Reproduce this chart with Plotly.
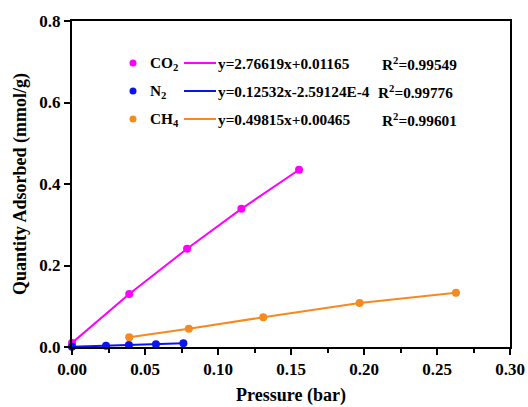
import plotly.graph_objects as go

# ---- data ----
co2_x = [0.0, 0.0392, 0.0788, 0.116, 0.1555]
co2_y = [0.010, 0.130, 0.241, 0.339, 0.435]

n2_x = [0.0, 0.0233, 0.039, 0.0575, 0.0763]
n2_y = [0.0005, 0.003, 0.005, 0.007, 0.0095]

ch4_x = [0.0392, 0.080, 0.131, 0.197, 0.263]
ch4_y = [0.024, 0.0446, 0.073, 0.108, 0.133]

legend_names = ["CO<sub>2</sub>", "N<sub>2</sub>", "CH<sub>4</sub>"]
legend_eqs = ["y=2.76619x+0.01165", "y=0.12532x-2.59124E-4", "y=0.49815x+0.00465"]
legend_r2 = ["R<sup>2</sup>=0.99549", "R<sup>2</sup>=0.99776", "R<sup>2</sup>=0.99601"]

x_ticks = [0.0, 0.05, 0.10, 0.15, 0.20, 0.25, 0.30]
y_ticks = [0.0, 0.2, 0.4, 0.6, 0.8]

COLORS = ["#FF00FF", "#0A14F0", "#F58A1F"]
FONT = "Liberation Serif"

W, H = 528, 407
ML, MR, MT, MB = 72, 18, 21, 60
PW, PH = W - ML - MR, H - MT - MB

fig = go.Figure()
for xs, ys, c in [(co2_x, co2_y, COLORS[0]), (n2_x, n2_y, COLORS[1]), (ch4_x, ch4_y, COLORS[2])]:
    fig.add_trace(go.Scatter(x=xs, y=ys, mode="lines+markers",
                             line=dict(color=c, width=2),
                             marker=dict(color=c, size=8),
                             showlegend=False, cliponaxis=False))

def px_x(p):
    return (p - ML) / PW

def px_y(p):
    return (H - MB - p) / PH

shapes = []
annotations = []
rows_y = [63, 91, 119]
r2_x = [380, 376, 380]
for i in range(3):
    yy = px_y(rows_y[i])
    shapes.append(dict(type="circle", xref="paper", yref="paper",
                       xsizemode="pixel", ysizemode="pixel",
                       xanchor=px_x(133), yanchor=yy,
                       x0=-3.5, x1=3.5, y0=-3.5, y1=3.5,
                       fillcolor=COLORS[i], line=dict(width=0)))
    shapes.append(dict(type="line", xref="paper", yref="paper",
                       x0=px_x(184), x1=px_x(216), y0=yy, y1=yy,
                       line=dict(color=COLORS[i], width=2)))
    font = dict(family=FONT, size=15.3, color="black")
    annotations.append(dict(text="<b>" + legend_names[i] + "</b>", xref="paper", yref="paper",
                            x=px_x(148), y=yy, xanchor="left", yanchor="middle",
                            showarrow=False, font=font))
    annotations.append(dict(text="<b>" + legend_eqs[i] + "</b>", xref="paper", yref="paper",
                            x=px_x(216), y=yy, xanchor="left", yanchor="middle",
                            showarrow=False, font=font))
    annotations.append(dict(text="<b>" + legend_r2[i] + "</b>", xref="paper", yref="paper",
                            x=px_x(r2_x[i]), y=yy, xanchor="left", yanchor="middle",
                            showarrow=False, font=font))

axis_common = dict(showline=True, linecolor="black", linewidth=2, mirror=True,
                   ticks="outside", ticklen=6, tickwidth=2, tickcolor="black",
                   showgrid=False, zeroline=False, automargin=False,
                   tickfont=dict(family=FONT, size=17, color="black"))

fig.update_layout(
    width=W, height=H,
    margin=dict(l=ML, r=MR, t=MT, b=MB, autoexpand=False),
    paper_bgcolor="white", plot_bgcolor="white",
    shapes=shapes, annotations=annotations,
    xaxis=dict(range=[0, 0.30], tickvals=x_ticks,
               ticktext=["<b>%.2f</b>" % v for v in x_ticks],
               minor=dict(ticks="outside", ticklen=4, tickwidth=2, tickcolor="black", dtick=0.025),
               title=dict(text="<b>Pressure (bar)</b>", standoff=10,
                          font=dict(family=FONT, size=18, color="black")),
               **axis_common),
    yaxis=dict(range=[0, 0.8], tickvals=y_ticks,
               ticktext=["<b>%.1f</b>" % v for v in y_ticks],
               title=dict(text="<b>Quantity Adsorbed (mmol/g)</b>", standoff=8,
                          font=dict(family=FONT, size=18, color="black")),
               **axis_common),
)

fig.write_html("out.html")
